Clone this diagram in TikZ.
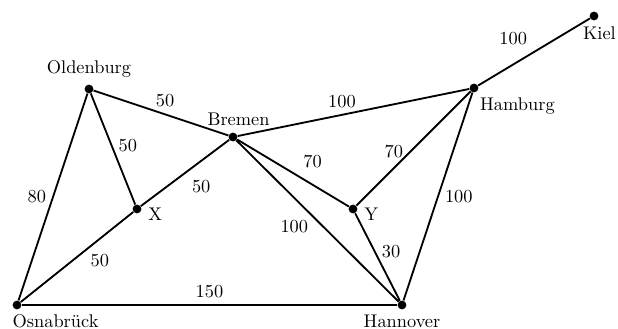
\documentclass[tikz,border=0pt]{standalone}
\usepackage{tikz}
\begin{document}
\begin{tikzpicture}[x=0.545pt,y=-0.545pt,
  city/.style={circle,fill=black,inner sep=0pt,minimum size=4.8pt},
  road/.style={line width=1pt}]
  \useasboundingbox (0,0) rectangle (618,329);
  % cities
  \node[city,label=above:Oldenburg] (old) at (89,89) {};
  \node[city,label={[xshift=3pt]above:Bremen}] (bre) at (233,137) {};
  \node[city,label={[xshift=-2pt]below right:Hamburg}] (ham) at (474,88) {};
  \node[city,label={[xshift=3pt]below:Kiel}] (kie) at (594,16) {};
  \node[city,label={[yshift=-3pt]right:X}] (X) at (137,209) {};
  \node[city,label={[yshift=-3pt]right:Y}] (Y) at (353,209) {};
  \node[city,label={[xshift=21pt,inner sep=1pt,label distance=1.5pt]below:Osnabr\"uck}] (osn) at (17,305) {};
  \node[city,label={[inner sep=1pt,label distance=1.5pt]below:Hannover}] (han) at (402,305) {};
  % roads
  \draw[road] (old) -- node[above,pos=.53]{50} (bre);
  \draw[road] (old) -- node[right,pos=.47]{50} (X);
  \draw[road] (old) -- node[left]{80} (osn);
  \draw[road] (X) -- node[below right]{50} (bre);
  \draw[road] (osn) -- node[below right,inner sep=2pt,pos=.58]{50} (X);
  \draw[road] (osn) -- node[above]{150} (han);
  \draw[road] (bre) -- node[above,pos=.45]{100} (ham);
  \draw[road] (bre) -- node[above right,pos=.53]{70} (Y);
  \draw[road] (Y) -- node[left,pos=.47]{70} (ham);
  \draw[road] (bre) -- node[below left,inner sep=2pt,pos=.47]{100} (han);
  \draw[road] (Y) -- node[right,pos=.44]{30} (han);
  \draw[road] (ham) -- node[right]{100} (han);
  \draw[road] (ham) -- node[above left]{100} (kie);
\end{tikzpicture}
\end{document}
